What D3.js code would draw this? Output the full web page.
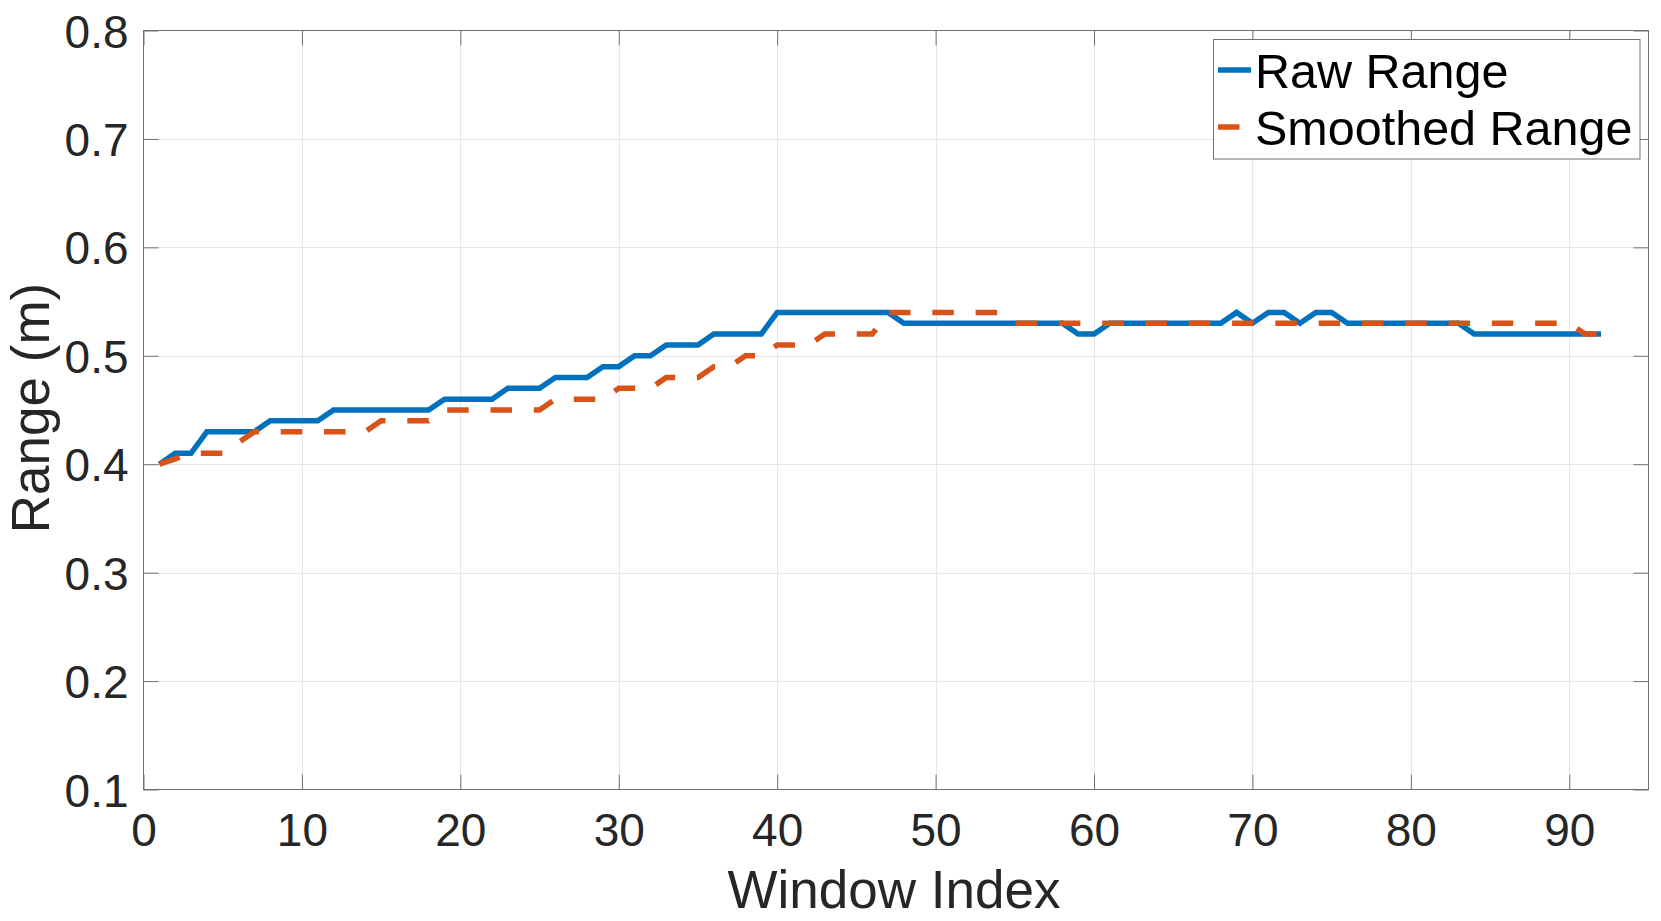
<!DOCTYPE html>
<html>
<head>
<meta charset="utf-8">
<script src="https://cdn.jsdelivr.net/npm/d3@7"></script>
<style>
  html, body { margin: 0; padding: 0; background: #fff; }
  svg { display: block; font-family: "Liberation Sans", Arial, Helvetica, sans-serif; }
</style>
</head>
<body>
<svg id="chart" width="1661" height="921"></svg>
<script>
// ---- Data ----
const seriesNames = ["Raw Range", "Smoothed Range"];
const seriesColors = ["#0072BD", "#D95319"];

const rawRange = [
  0.40,0.41,0.41,0.43,0.43,0.43,0.43,0.44,0.44,0.44,
  0.44,0.45,0.45,0.45,0.45,0.45,0.45,0.45,0.46,0.46,
  0.46,0.46,0.47,0.47,0.47,0.48,0.48,0.48,0.49,0.49,
  0.50,0.50,0.51,0.51,0.51,0.52,0.52,0.52,0.52,0.54,
  0.54,0.54,0.54,0.54,0.54,0.54,0.54,0.53,0.53,0.53,
  0.53,0.53,0.53,0.53,0.53,0.53,0.53,0.53,0.52,0.52,
  0.53,0.53,0.53,0.53,0.53,0.53,0.53,0.53,0.54,0.53,
  0.54,0.54,0.53,0.54,0.54,0.53,0.53,0.53,0.53,0.53,
  0.53,0.53,0.53,0.52,0.52,0.52,0.52,0.52,0.52,0.52,
  0.52,0.52
];

const smoothedRange = [
  0.40,0.405,0.41,0.41,0.41,0.42,0.43,0.43,0.43,0.43,
  0.43,0.43,0.43,0.43,0.44,0.44,0.44,0.44,0.45,0.45,
  0.45,0.45,0.45,0.45,0.45,0.46,0.46,0.46,0.46,0.47,
  0.47,0.47,0.48,0.48,0.48,0.49,0.49,0.50,0.50,0.51,
  0.51,0.51,0.52,0.52,0.52,0.52,0.54,0.54,0.54,0.54,
  0.54,0.54,0.54,0.54,0.53,0.53,0.53,0.53,0.53,0.53,
  0.53,0.53,0.53,0.53,0.53,0.53,0.53,0.53,0.53,0.53,
  0.53,0.53,0.53,0.53,0.53,0.53,0.53,0.53,0.53,0.53,
  0.53,0.53,0.53,0.53,0.53,0.53,0.53,0.53,0.53,0.53,
  0.52,0.52
];

const xTicks = [0, 10, 20, 30, 40, 50, 60, 70, 80, 90];
const yTicks = [0.1, 0.2, 0.3, 0.4, 0.5, 0.6, 0.7, 0.8];
const xDomain = [0, 95];
const yDomain = [0.1, 0.8];
const xLabel = "Window Index";
const yLabel = "Range (m)";

// ---- Layout ----
const plot = { left: 143.5, right: 1648.5, top: 30.5, bottom: 789.5 };
const axisColor = "#262626";
const frameColor = "#707070";
const gridColor = "#e6e6e6";
const tickLen = 15;

const svg = d3.select("#chart");

const x = d3.scaleLinear().domain(xDomain).range([plot.left, plot.right]);
const y = d3.scaleLinear().domain(yDomain).range([plot.bottom, plot.top]);

svg.append("rect").attr("x", 0).attr("y", 0).attr("width", 1661).attr("height", 921).attr("fill", "#fff");

// grid
const grid = svg.append("g").attr("class", "grid");
grid.selectAll("line.gx").data(xTicks.filter(d => d > xDomain[0])).join("line")
  .attr("x1", d => Math.round(x(d)) + 0.5).attr("x2", d => Math.round(x(d)) + 0.5)
  .attr("y1", plot.top).attr("y2", plot.bottom)
  .attr("stroke", gridColor).attr("stroke-width", 1);
grid.selectAll("line.gy").data(yTicks.filter(d => d > yDomain[0] && d < yDomain[1])).join("line")
  .attr("y1", d => Math.round(y(d)) + 0.5).attr("y2", d => Math.round(y(d)) + 0.5)
  .attr("x1", plot.left).attr("x2", plot.right)
  .attr("stroke", gridColor).attr("stroke-width", 1);

function styleAxis(g) {
  g.select(".domain").remove();
  g.selectAll(".tick line").attr("stroke", frameColor).attr("stroke-width", 1);
  g.selectAll(".tick text").attr("fill", axisColor).style("font-size", "46px")
    .style("font-family", "'Liberation Sans', Arial, Helvetica, sans-serif");
}

const xAxisBottom = d3.axisBottom(x).tickValues(xTicks).tickFormat(d3.format("d"))
  .tickSizeInner(-tickLen).tickSizeOuter(0);
svg.append("g").attr("transform", `translate(0,${plot.bottom})`).call(xAxisBottom).call(styleAxis)
  .selectAll(".tick text").attr("dy", "0.71em").attr("y", 24);

const xAxisTop = d3.axisTop(x).tickValues(xTicks).tickFormat("")
  .tickSizeInner(-tickLen).tickSizeOuter(0);
svg.append("g").attr("transform", `translate(0,${plot.top})`).call(xAxisTop).call(styleAxis);

const yAxisLeft = d3.axisLeft(y).tickValues(yTicks).tickFormat(d3.format(".1f"))
  .tickSizeInner(-tickLen).tickSizeOuter(0);
svg.append("g").attr("transform", `translate(${plot.left},0)`).call(yAxisLeft).call(styleAxis)
  .selectAll(".tick text").attr("x", -15).attr("dy", "0.36em");

const yAxisRight = d3.axisRight(y).tickValues(yTicks).tickFormat("")
  .tickSizeInner(-tickLen).tickSizeOuter(0);
svg.append("g").attr("transform", `translate(${plot.right},0)`).call(yAxisRight).call(styleAxis);

// frame
svg.append("rect")
  .attr("x", plot.left).attr("y", plot.top)
  .attr("width", plot.right - plot.left).attr("height", plot.bottom - plot.top)
  .attr("fill", "none").attr("stroke", frameColor).attr("stroke-width", 1);

// lines
const line = d3.line().x((d, i) => x(i + 1)).y(d => y(d));
const lines = svg.append("g").attr("class", "lines");
lines.append("path").datum(rawRange)
  .attr("d", line).attr("fill", "none")
  .attr("stroke", seriesColors[0]).attr("stroke-width", 5.5)
  .attr("stroke-linejoin", "miter").attr("stroke-linecap", "butt");
lines.append("path").datum(smoothedRange)
  .attr("d", line).attr("fill", "none")
  .attr("stroke", seriesColors[1]).attr("stroke-width", 5.5)
  .attr("stroke-dasharray", "21.5,21.8")
  .attr("stroke-linejoin", "miter").attr("stroke-linecap", "butt");

// axis labels
svg.append("text")
  .attr("x", (plot.left + plot.right) / 2 - 2).attr("y", 908)
  .attr("text-anchor", "middle").attr("fill", axisColor)
  .style("font-size", "53px").text(xLabel);

svg.append("text")
  .attr("transform", `translate(49,${(plot.top + plot.bottom) / 2 - 2}) rotate(-90)`)
  .attr("text-anchor", "middle").attr("fill", axisColor)
  .style("font-size", "53px").text(yLabel);

// legend
const legend = svg.append("g").attr("class", "legend");
legend.append("rect")
  .attr("x", 1213.5).attr("y", 39.5).attr("width", 426.5).attr("height", 119.5)
  .attr("fill", "#fff").attr("stroke", frameColor).attr("stroke-width", 1);
const legendRows = [
  { name: seriesNames[0], color: seriesColors[0], dash: null, y: 70, len: 33 },
  { name: seriesNames[1], color: seriesColors[1], dash: "21.5,21.8", y: 127, len: 22 }
];
legendRows.forEach(r => {
  legend.append("line")
    .attr("x1", 1218).attr("x2", 1218 + r.len)
    .attr("y1", r.y).attr("y2", r.y)
    .attr("stroke", r.color).attr("stroke-width", 5.5)
    .attr("stroke-dasharray", r.dash);
  legend.append("text")
    .attr("x", 1255).attr("y", r.y + 18)
    .attr("fill", "#000").style("font-size", "48.5px").text(r.name);
});
</script>
</body>
</html>
